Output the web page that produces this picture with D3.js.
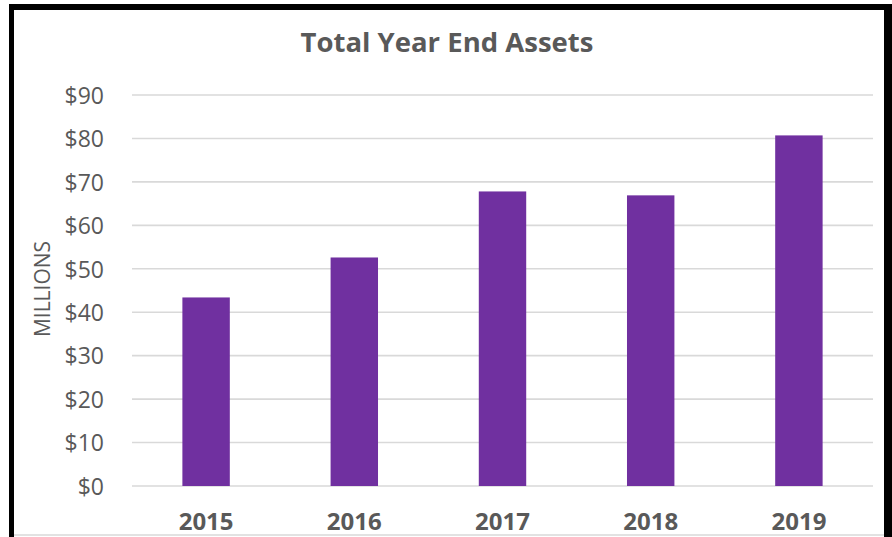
<!DOCTYPE html>
<html><head><meta charset="utf-8">
<script src="https://cdn.jsdelivr.net/npm/d3@7/dist/d3.min.js"></script>
<style>html,body{margin:0;padding:0;background:#fff;}svg{display:block;}</style>
</head><body>
<svg id="c" width="892" height="537"></svg>
<script>
const categories = ["2015","2016","2017","2018","2019"];
const values = [43.4, 52.6, 67.8, 66.9, 80.7];
const tickValues = [0,10,20,30,40,50,60,70,80,90];
const titleText = "Total Year End Assets";
const axisTitle = "MILLIONS";

const W = 892, H = 537;
const svg = d3.select("#c");
const font = "'Open Sans', 'DejaVu Sans', sans-serif";
const grey = "#595959";

svg.append("rect").attr("width", W).attr("height", H).attr("fill", "#fff");

const x = d3.scaleBand().domain(categories).range([132, 873]).paddingInner(0.68).paddingOuter(0.34);
const y = d3.scaleLinear().domain([0, 90]).range([486, 95]);

// gridlines
svg.append("g").selectAll("line").data(tickValues).join("line")
  .attr("x1", 132).attr("x2", 873)
  .attr("y1", d => y(d)).attr("y2", d => y(d))
  .attr("stroke", "#d9d9d9").attr("stroke-width", 1.6);

// y axis labels
const yAxis = d3.axisLeft(y).tickValues(tickValues).tickSize(0).tickPadding(0)
  .tickFormat(d => "$" + d);
const gy = svg.append("g").attr("transform", "translate(104,0)").call(yAxis);
gy.select(".domain").remove();
gy.selectAll("text").attr("font-family", font).attr("font-size", 23)
  .attr("fill", grey).attr("dy", "0.36em");

// bars
svg.append("g").selectAll("rect").data(values).join("rect")
  .attr("x", (d, i) => x(categories[i]))
  .attr("width", x.bandwidth())
  .attr("y", d => y(d))
  .attr("height", d => y(0) - y(d))
  .attr("fill", "#7030a0");

// x axis labels
const xAxis = d3.axisBottom(x).tickSize(0).tickPadding(0);
const gx = svg.append("g").attr("transform", "translate(0,530)").call(xAxis);
gx.select(".domain").remove();
gx.selectAll("text").attr("font-family", font).attr("font-size", 24)
  .attr("font-weight", "bold").attr("fill", grey).attr("dy", 0);

// title
svg.append("text").attr("x", 447).attr("y", 52).attr("text-anchor", "middle")
  .attr("font-family", font).attr("font-size", 27.5).attr("font-weight", "bold")
  .attr("fill", grey).text(titleText);

// axis title
svg.append("text").attr("transform", "translate(50,289) rotate(-90)")
  .attr("text-anchor", "middle").attr("font-family", font).attr("font-size", 21)
  .attr("fill", grey).text(axisTitle);

// frame
svg.append("line").attr("x1", 14).attr("x2", 884).attr("y1", 535).attr("y2", 535)
  .attr("stroke", "#d9d9d9").attr("stroke-width", 1.5);
svg.append("rect").attr("x", 9).attr("y", 4).attr("width", W - 9).attr("height", 6).attr("fill", "#000");
svg.append("rect").attr("x", 9).attr("y", 4).attr("width", 5).attr("height", H - 4).attr("fill", "#000");
svg.append("rect").attr("x", 884).attr("y", 4).attr("width", 8).attr("height", H - 4).attr("fill", "#000");
</script>
</body></html>
